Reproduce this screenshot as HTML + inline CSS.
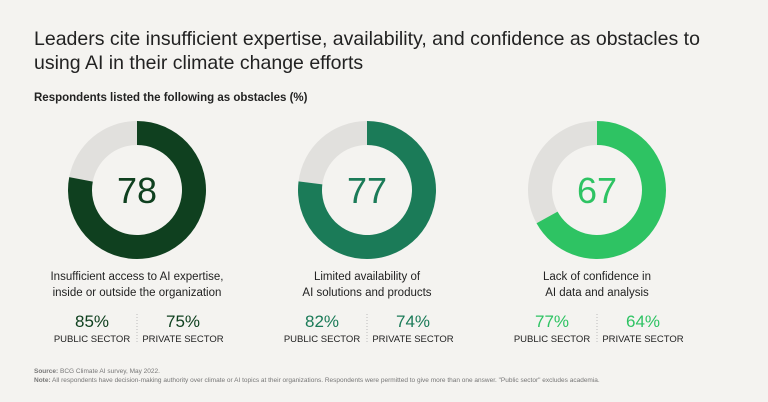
<!DOCTYPE html>
<html><head><meta charset="utf-8"><style>
body{margin:0;width:768px;height:402px;background:#f4f3f0;font-family:"Liberation Sans",sans-serif;color:#222;position:relative;overflow:hidden}
.t{position:absolute;white-space:nowrap}
.c{position:absolute;text-align:center;white-space:nowrap}
</style></head><body>
<div class="t" style="left:34px;top:27px;font-size:19.5px;line-height:24px;color:#222">Leaders cite insufficient expertise, availability, and confidence as obstacles to<br>using AI in their climate change efforts</div>
<div class="t" style="left:34px;top:92px;font-size:11.5px;font-weight:bold">Respondents listed the following as obstacles (%)</div>
<svg id="s" width="768" height="402" style="position:absolute;left:0;top:0"></svg>
<div class="t" style="left:34px;top:367px;font-size:6.5px;color:#777;line-height:9px"><b>Source:</b> BCG Climate AI survey, May 2022.<br><b>Note:</b> All respondents have decision-making authority over climate or AI topics at their organizations. Respondents were permitted to give more than one answer. "Public sector" excludes academia.</div>
<script>
const values=[78,77,67];
const publicVals=[85,82,77];
const privateVals=[75,74,64];
const labels=[["Insufficient access to AI expertise,","inside or outside the organization"],["Limited availability of","AI solutions and products"],["Lack of confidence in","AI data and analysis"]];
const colors=["#0f401f","#1b7b58","#2ec363"];
const centers=[137,367,597];
const cy=190,R=69,r=45;
const svg=document.getElementById('s');
const NS="http://www.w3.org/2000/svg";
function pt(a,rad,cx){return [cx+rad*Math.sin(a),cy-rad*Math.cos(a)];}
function arc(cx,a0,a1){const l=(a1-a0)>Math.PI?1:0;const[p1,p2]=[pt(a0,R,cx),pt(a1,R,cx)];const[p3,p4]=[pt(a1,r,cx),pt(a0,r,cx)];return `M${p1}A${R},${R} 0 ${l} 1 ${p2}L${p3}A${r},${r} 0 ${l} 0 ${p4}Z`;}
values.forEach((v,i)=>{
 const cx=centers[i];const e=v/100*2*Math.PI;
 const g=document.createElementNS(NS,'path');g.setAttribute('d',arc(cx,e,2*Math.PI-1e-6));g.setAttribute('fill','#e1e0dd');
 
 
 svg.appendChild(g);
 const p=document.createElementNS(NS,'path');p.setAttribute('d',arc(cx,0,e));p.setAttribute('fill',colors[i]);
 
 
 svg.appendChild(p);
 const t=document.createElementNS(NS,'text');t.setAttribute('x',cx);t.setAttribute('y',cy+13);t.setAttribute('text-anchor','middle');t.setAttribute('font-size','36');t.setAttribute('fill',colors[i]);t.setAttribute('font-family','Liberation Sans, sans-serif');t.textContent=v;
 
 
 svg.appendChild(t);
 const ln=document.createElementNS(NS,'line');ln.setAttribute('x1',cx);ln.setAttribute('x2',cx);ln.setAttribute('y1',314);ln.setAttribute('y2',343);ln.setAttribute('stroke','#bbb');ln.setAttribute('stroke-dasharray','1,2');
 
 
 svg.appendChild(ln);
 const lb=document.createElement('div');lb.className='c';lb.style.cssText=`left:${cx-120}px;width:240px;top:269px;font-size:11.5px;line-height:16px;color:#222`;lb.innerHTML=labels[i].join('<br>');
 
 
 document.body.appendChild(lb);
 [[publicVals[i],'PUBLIC SECTOR',-45],[privateVals[i],'PRIVATE SECTOR',46]].forEach(([val,name,dx])=>{
  const d=document.createElement('div');d.className='c';d.style.cssText=`left:${cx+dx-60}px;width:120px;top:312px`;
  d.innerHTML=`<div style="font-size:17px;color:${colors[i]};line-height:20px">${val}%</div><div style="font-size:9.5px;color:#222;line-height:12px;margin-top:2px">${name}</div>`;
  
  
  document.body.appendChild(d);
 });
});
</script>
</body></html>
